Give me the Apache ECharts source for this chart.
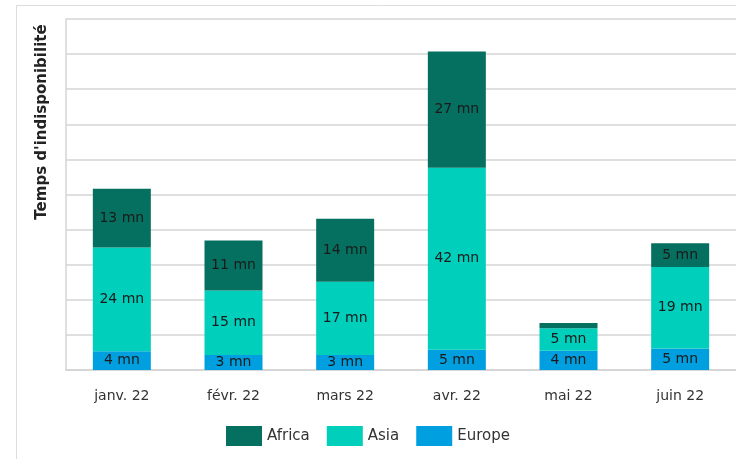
<!DOCTYPE html>
<html>
<head>
<meta charset="utf-8">
<script src="https://cdn.jsdelivr.net/npm/echarts@6/dist/echarts.min.js"></script>
<style>html,body{margin:0;padding:0;background:#fff}#c{width:736px;height:459px}</style>
</head>
<body>
<div id="c"></div>
<script>
var months = ['janv. 22', 'févr. 22', 'mars 22', 'avr. 22', 'mai 22', 'juin 22'];
var europe = [4.3, 3.4, 3.4, 4.6, 4.4, 4.9];
var asia = [23.6, 14.7, 16.7, 41.5, 5.1, 18.6];
var africa = [13.4, 11.4, 14.4, 26.5, 1.2, 5.4];
var yTitle = "Temps d'indisponibilité";
var FONT = 'DejaVu Sans';

function lbl(p) { return p.value >= 2 ? Math.round(p.value) + ' mn' : ''; }
function mk(name, data, color) {
  return {
    name: name, type: 'bar', stack: 'total', data: data, barWidth: 58,
    itemStyle: { color: color },
    label: { show: true, position: 'inside', formatter: lbl, color: '#1a1a1a', fontSize: 14, fontFamily: FONT },
    emphasis: { disabled: true }
  };
}
var chart = echarts.init(document.getElementById('c'), null, { renderer: 'canvas' });
chart.setOption({
  animation: false,
  backgroundColor: '#fff',
  grid: { left: 66, top: 19, width: 676, height: 351 },
  legend: {
    data: ['Africa', 'Asia', 'Europe'], bottom: 8, left: 'center',
    itemWidth: 36, itemHeight: 20, itemGap: 17, icon: 'rect',
    textStyle: { fontFamily: FONT, fontSize: 15, color: '#333' }
  },
  xAxis: {
    type: 'category', data: months,
    axisLine: { show: true, lineStyle: { color: '#d4d4d4', width: 1.5 } },
    axisTick: { show: false },
    axisLabel: { margin: 19, fontFamily: FONT, fontSize: 14, color: '#333' }
  },
  yAxis: {
    type: 'value', min: 0, max: 80, interval: 8,
    axisLabel: { show: false },
    axisLine: { show: true, lineStyle: { color: '#d4d4d4', width: 1.5 } },
    axisTick: { show: false },
    splitLine: { show: true, lineStyle: { color: '#d4d4d4', width: 1.5 } }
  },
  graphic: [
    { type: 'polyline', silent: true, shape: { points: [[16.5, 470], [16.5, 5.5], [750, 5.5]] }, style: { stroke: '#dcdcdc', lineWidth: 1, fill: null } },
    { type: 'text', x: 42, y: 122, rotation: Math.PI / 2, silent: true,
      style: { text: yTitle, font: 'bold 15px "DejaVu Sans"', fill: '#222', textAlign: 'center', textVerticalAlign: 'middle' } }
  ],
  series: [
    mk('Europe', europe, '#00A0E0'),
    mk('Asia', asia, '#00CFBC'),
    mk('Africa', africa, '#05705F')
  ]
});
</script>
</body>
</html>
